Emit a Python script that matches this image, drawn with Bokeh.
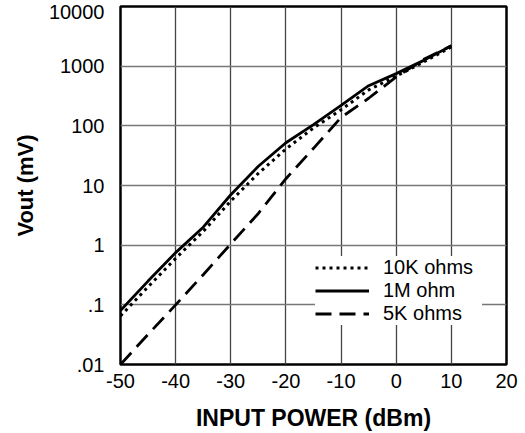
from bokeh.plotting import figure
from bokeh.models import Range1d, FixedTicker, Legend, LegendItem
from bokeh.embed import file_html
from bokeh.resources import INLINE

# ---- data ----
input_power = [-50, -45, -40, -35, -30, -25, -20, -15, -10, -5, 0, 5, 10]
vout_10k = [0.065, 0.2, 0.6, 1.7, 5.5, 16, 41, 92, 186, 400, 680, 1180, 2100]
vout_1m = [0.08, 0.25, 0.75, 2.0, 7.0, 21, 52, 105, 220, 470, 750, 1250, 2200]
vout_5k = [0.01, 0.032, 0.1, 0.32, 1.05, 3.4, 13, 42, 138, 290, 660, 1300, 2200]

x_ticks = [-50, -40, -30, -20, -10, 0, 10, 20]
x_tick_labels = ["-50", "-40", "-30", "-20", "-10", "0", "10", "20"]
y_ticks = [0.01, 0.1, 1, 10, 100, 1000, 10000]
y_tick_labels = [".01", ".1", "1", "10", "100", "1000", "10000"]
series_names = ["10K ohms", "1M ohm", "5K ohms"]

FONT = "Liberation Sans"
FRAME_H = 433 - 6 - 69
PX_PER_DECADE = FRAME_H / 6.0

p = figure(
    width=525, height=433,
    x_range=Range1d(-50, 20), y_range=Range1d(0.01, 10000),
    y_axis_type="log",
    output_backend="svg", toolbar_location=None,
    min_border_left=120, min_border_right=19,
    min_border_top=6, min_border_bottom=69,
)
p.background_fill_color = "white"
p.border_fill_color = "white"
p.outline_line_color = "black"
p.outline_line_width = 2.5

# axes
for ax in (p.xaxis[0], p.yaxis[0]):
    ax.axis_line_color = None
    ax.major_tick_line_color = None
    ax.minor_tick_line_color = None
    ax.major_tick_out = 0
    ax.major_tick_in = 0
    ax.minor_tick_out = 0
    ax.minor_tick_in = 0
    ax.major_label_text_font = FONT
    ax.major_label_text_font_size = "20px"
    ax.major_label_text_color = "black"
    ax.axis_label_text_font = FONT
    ax.axis_label_text_font_style = "bold"
    ax.axis_label_text_color = "black"

p.xaxis.axis_label_text_font_size = "23px"
p.yaxis.axis_label_text_font_size = "22px"

p.xaxis.ticker = FixedTicker(ticks=x_ticks, minor_ticks=[])
p.xaxis.major_label_overrides = dict(zip(x_ticks, x_tick_labels))

# y-axis label positions: the topmost label sits ~5 px below its grid line
# (as in the reference, where it would otherwise run off the top edge)
y_label_pos = list(y_ticks)
y_label_pos[-1] = y_ticks[-1] * 10 ** (-5.5 / PX_PER_DECADE)
p.yaxis.ticker = FixedTicker(ticks=y_label_pos, minor_ticks=[])
p.yaxis.major_label_overrides = dict(zip(y_label_pos, y_tick_labels))

p.xaxis.major_label_standoff = 9
p.yaxis.major_label_standoff = 16
p.xaxis.axis_label = "INPUT POWER (dBm)"
p.yaxis.axis_label = "Vout (mV)"
p.xaxis.axis_label_standoff = 14
p.yaxis.axis_label_standoff = 8

# grid
p.xgrid.ticker = FixedTicker(ticks=x_ticks, minor_ticks=[])
p.ygrid.ticker = FixedTicker(ticks=y_ticks, minor_ticks=[])
p.xgrid.grid_line_color = "#444444"
p.ygrid.grid_line_color = "#777777"
p.xgrid.grid_line_width = 1.3
p.ygrid.grid_line_width = 1.3

# lines
r10k = p.line(input_power, vout_10k, line_color="black", line_width=3,
              line_dash="3 4")
r1m = p.line(input_power, vout_1m, line_color="black", line_width=2.8)
r5k = p.line(input_power, vout_5k, line_color="black", line_width=2.8,
             line_dash="16 8")

legend = Legend(
    items=[LegendItem(label=series_names[0], renderers=[r10k]),
           LegendItem(label=series_names[1], renderers=[r1m]),
           LegendItem(label=series_names[2], renderers=[r5k])],
    location=(195, 39),
    orientation="vertical",
    background_fill_color="white",
    background_fill_alpha=1.0,
    border_line_color=None,
    label_text_font=FONT,
    label_text_font_size="20px",
    label_text_color="black",
    glyph_width=54,
    glyph_height=23,
    label_height=23,
    label_width=99,
    label_standoff=14,
    spacing=0,
    padding=3,
    margin=0,
)
p.add_layout(legend, "center")

open("out.html", "w").write(file_html(p, INLINE))
